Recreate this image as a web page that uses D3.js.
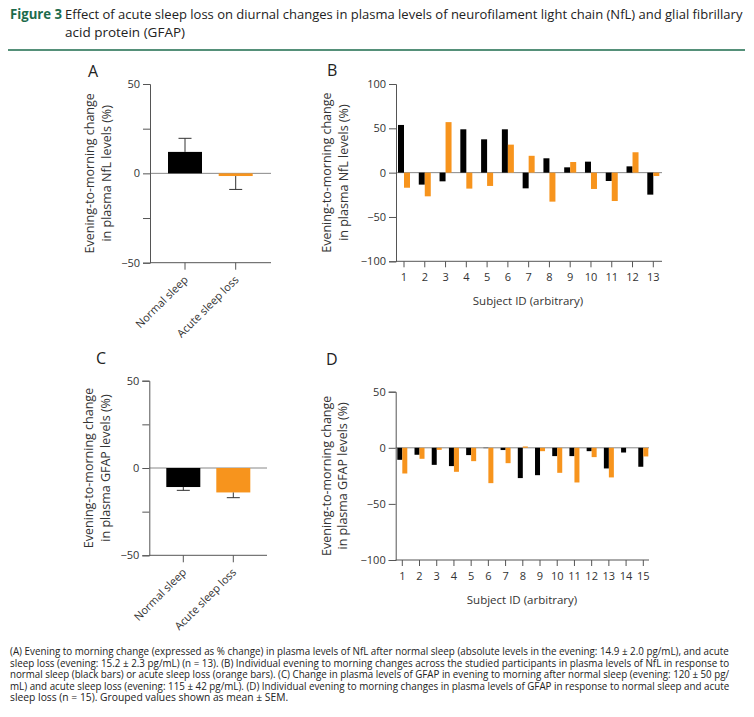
<!DOCTYPE html>
<html>
<head>
<meta charset="utf-8">
<script src="https://cdn.jsdelivr.net/npm/d3@7"></script>
<style>
  body { margin: 0; background: #fff; }
  text { font-family: "Open Sans", "Noto Sans", sans-serif; }
  .axis path, .axis line { stroke: #555; }
  .axis text { fill: #333; font-size: 11px; }
</style>
</head>
<body>
<div id="fig"></div>
<script>
// data
groups = ["Normal sleep", "Acute sleep loss"]
nflMean = [12, -1.5]
nflErr = [19.6, -9]
gfapMean = [-10.9, -14]
gfapErr = [-12.8, -17]

subjectsB = d3.range(1, 14)
nflNormal = [53.8, -13.5, -9.8, 48.9, 37.6, 48.9, -17.7, 16.2, 6, 12.4, -9.4, 7.1, -24.8]
nflLoss = [-17, -26.7, 57, -18, -15, 31.6, 19, -32.7, 12, -18.4, -32, 23, -3.8]

subjectsD = d3.range(1, 16)
gfapNormal = [-10.7, -6.2, -15.2, -16.3, -6.5, -0.3, -2, -27, -24.4, -7.4, -7.4, -3, -18.4, -4.2, -16.9]
gfapLoss = [-22.9, -9.8, -1.8, -21.4, -11.9, -31.5, -13.7, 1.2, -3, -22.3, -30.9, -8.3, -26.4, 0, -7.7]

colBlack = "#000"
colOrange = "#f7941d"

svg = d3.select("#fig").append("svg")
  .attr("width", 754).attr("height", 717)

// squeeze a text horizontally so it spans the given width
function fitWidth(sel, x, y, w){
  sel.each(function(){
    let n = this.getComputedTextLength()
    let sx = Math.min(1, w / n)
    d3.select(this).attr("x", null).attr("y", null)
      .attr("transform", `translate(${x}, ${y}) scale(${sx}, 1)`)
  })
}

// title
svg.append("text").attr("x", 10).attr("y", 19).style("font-size", "13.5px")
  .style("fill", "#1d6b4c").style("font-weight", "bold").text("Figure 3")
  .call(fitWidth, 10, 19, 52)
t1 = svg.append("text").style("font-size", "13.5px").style("fill", "#222")
  .text("Effect of acute sleep loss on diurnal changes in plasma levels of neurofilament light chain (NfL) and glial fibrillary")
t1.call(fitWidth, 65, 19, 678)
svg.append("text").style("font-size", "13.5px").style("fill", "#222")
  .text("acid protein (GFAP)")
  .call(fitWidth, 65, 37, 126)
svg.append("line").attr("x1", 8).attr("x2", 745).attr("y1", 50).attr("y2", 50)
  .style("stroke", "#1d6b4c").style("stroke-width", 1.5)

function yTitle(cx, cy, line2){
  t = svg.append("text").attr("transform", `translate(${cx}, ${cy}) rotate(-90)`)
    .attr("text-anchor", "middle").style("font-size", "12.5px").style("fill", "#333")
  t.append("tspan").attr("x", 0).attr("dy", "-0.25em").text("Evening-to-morning change")
  t.append("tspan").attr("x", 0).attr("dy", "1.35em").text(line2)
}

function letter(x, y, s){
  svg.append("text").attr("x", x).attr("y", y).style("font-size", "16px").style("fill", "#222").text(s)
}

// grouped panels (A, C)
function groupPanel(box, means, errs, line2){
  y = d3.scaleLinear().domain([-50, 50]).range([box.bottom, box.top])
  x = d3.scalePoint().domain(groups).range([box.x1, box.x2])
  g = svg.append("g")

  g.append("line").attr("x1", box.left).attr("x2", box.right)
    .attr("y1", y(0)).attr("y2", y(0)).style("stroke", "#888")

  g.selectAll(".bar").data(groups).join("rect")
    .attr("x", d => x(d) - 17)
    .attr("width", 34)
    .attr("y", (d, i) => y(Math.max(0, means[i])))
    .attr("height", (d, i) => Math.abs(y(means[i]) - y(0)))
    .style("fill", (d, i) => i == 0 ? colBlack : colOrange)

  g.selectAll(".err").data(groups).join("line")
    .attr("x1", d => x(d)).attr("x2", d => x(d))
    .attr("y1", (d, i) => y(means[i])).attr("y2", (d, i) => y(errs[i]))
    .style("stroke", "#333")
  g.selectAll(".cap").data(groups).join("line")
    .attr("x1", d => x(d) - 6.5).attr("x2", d => x(d) + 6.5)
    .attr("y1", (d, i) => y(errs[i])).attr("y2", (d, i) => y(errs[i]))
    .style("stroke", "#333")

  g.append("g").attr("class", "axis")
    .attr("transform", `translate(${box.left}, 0)`)
    .call(d3.axisLeft(y).tickValues([-50, -25, 0, 25, 50]).tickSize(7).tickPadding(3)
      .tickFormat(d => d % 50 == 0 ? d3.format("")(d) : ""))

  xa = g.append("g").attr("class", "axis")
    .attr("transform", `translate(0, ${box.bottom})`)
  xa.append("line").attr("x1", box.left).attr("x2", box.right).style("stroke", "#555")
  xa.selectAll(".tk").data(groups).join("line")
    .attr("x1", d => x(d)).attr("x2", d => x(d)).attr("y1", 0).attr("y2", 7).style("stroke", "#555")
  xa.selectAll(".lb").data(groups).join("text")
    .attr("transform", d => `translate(${x(d) + 1}, 15) rotate(-45)`)
    .attr("text-anchor", "end").attr("dy", "0.35em")
    .text(d => d)

  yTitle(box.left - 53, (box.top + box.bottom) / 2, line2)
}

// per-subject panels (B, D)
function subjectPanel(box, subjects, normal, loss, domain, ticks, bw, line2){
  y = d3.scaleLinear().domain(domain).range([box.bottom, box.top])
  x = d3.scalePoint().domain(subjects).range([box.x1, box.x2])
  g = svg.append("g")

  g.append("line").attr("x1", box.left).attr("x2", box.right)
    .attr("y1", y(0)).attr("y2", y(0)).style("stroke", "#888")

  g.selectAll(".bn").data(subjects).join("rect")
    .attr("x", d => x(d) - bw).attr("width", bw)
    .attr("y", (d, i) => y(Math.max(0, normal[i])))
    .attr("height", (d, i) => Math.abs(y(normal[i]) - y(0)))
    .style("fill", colBlack)
  g.selectAll(".bl").data(subjects).join("rect")
    .attr("x", d => x(d)).attr("width", bw)
    .attr("y", (d, i) => y(Math.max(0, loss[i])))
    .attr("height", (d, i) => Math.abs(y(loss[i]) - y(0)))
    .style("fill", colOrange)

  g.append("g").attr("class", "axis")
    .attr("transform", `translate(${box.left}, 0)`)
    .call(d3.axisLeft(y).tickValues(ticks).tickSize(7).tickPadding(3))

  xa = g.append("g").attr("class", "axis")
    .attr("transform", `translate(0, ${box.bottom})`)
  xa.append("line").attr("x1", box.left).attr("x2", box.right).style("stroke", "#555")
  xa.selectAll(".tk").data(subjects).join("line")
    .attr("x1", d => x(d)).attr("x2", d => x(d)).attr("y1", 0).attr("y2", 6).style("stroke", "#555")
  xa.selectAll(".lb").data(subjects).join("text")
    .attr("x", d => x(d)).attr("y", 20).attr("text-anchor", "middle")
    .text(d => d)

  svg.append("text").attr("x", box.labelX).attr("y", box.bottom + 44)
    .attr("text-anchor", "middle").style("font-size", "11.5px").style("fill", "#333")
    .text("Subject ID (arbitrary)")

  yTitle(box.left - 62, (box.top + box.bottom) / 2, line2)
}

letter(88, 77, "A")
groupPanel({left: 150, right: 271, top: 84, bottom: 262.7, x1: 185, x2: 235.7},
  nflMean, nflErr, "in plasma NfL levels  (%)")

letter(96, 364, "C")
groupPanel({left: 149.3, right: 267, top: 380.7, bottom: 555.3, x1: 183.3, x2: 233.3},
  gfapMean, gfapErr, "in plasma GFAP levels  (%)")

letter(327, 76, "B")
subjectPanel({left: 396, right: 662, top: 84, bottom: 261.3, x1: 404, x2: 653.3, labelX: 528},
  subjectsB, nflNormal, nflLoss, [-100, 100], [-100, -50, 0, 50, 100], 6, "in plasma NfL levels  (%)")

letter(326, 365, "D")
subjectPanel({left: 395.7, right: 649, top: 391.7, bottom: 560, x1: 402.3, x2: 643.3, labelX: 522},
  subjectsD, gfapNormal, gfapLoss, [-100, 50], [-100, -50, 0, 50], 5, "in plasma GFAP levels  (%)")

// caption
caption = [
  "(A) Evening to morning change (expressed as % change) in plasma levels of NfL after normal sleep (absolute levels in the evening: 14.9 ± 2.0 pg/mL), and acute",
  "sleep loss (evening: 15.2 ± 2.3 pg/mL) (n = 13). (B) Individual evening to morning changes across the studied participants in plasma levels of NfL in response to",
  "normal sleep (black bars) or acute sleep loss (orange bars). (C) Change in plasma levels of GFAP in evening to morning after normal sleep (evening: 120 ± 50 pg/",
  "mL) and acute sleep loss (evening: 115 ± 42 pg/mL). (D) Individual evening to morning changes in plasma levels of GFAP in response to normal sleep and acute",
  "sleep loss (n = 15). Grouped values shown as mean ± SEM."
]
capWidth = [720, 720, 720, 720, 281]
svg.selectAll(".capt").data(caption).join("text")
  .style("font-size", "10.3px").style("fill", "#222")
  .text(d => d)
  .each(function(d, i){ d3.select(this).call(fitWidth, 10, 655 + i * 11.6, capWidth[i]) })
</script>
</body>
</html>
